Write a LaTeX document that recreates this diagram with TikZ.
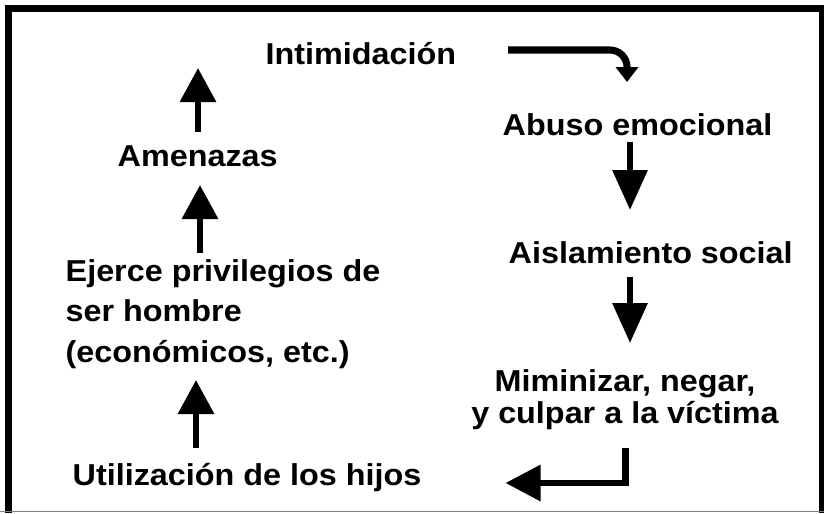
\documentclass[tikz,border=0pt]{standalone}
\usepackage{fontspec}
\setmainfont{Liberation Sans}[FakeStretch=1.07]
\usetikzlibrary{arrows.meta}
\tikzset{flecha/.style={line width=1.8pt, -{Triangle[length=3.4mm,width=3.5mm]}},
  texto/.style={font=\bfseries\fontsize{8.6}{11.4}\selectfont, inner sep=0pt, anchor=base west}}

\begin{document}
\begin{tikzpicture}
      \useasboundingbox (0,0) rectangle (8.24,5.13);
      \draw[line width=2pt] (0.085,0) -- (0.085,5.045) -- (8.225,5.045) -- (8.225,0);
      \draw[gray, line width=0.5pt] (0,0.015) -- (8.24,0.015);
      \node[texto] (intimidacion) at (2.65,4.49) {Intimidación};
      \node[texto] (abuso) at (5.02,3.78) {Abuso emocional};
      \node[texto] (aislamiento) at (5.08,2.50) {Aislamiento social};
      \node[texto, anchor=base, align=center, font=\bfseries\fontsize{8.6}{9.1}\selectfont] (minimizar) at (6.25,0.90) {Miminizar, negar, \\ y culpar a la víctima};
      \node[texto] (hijos) at (0.72,0.28) {Utilización de los hijos};
      \node[texto, align=left] (privilegios) at (0.65,1.51) {Ejerce privilegios de \\ ser hombre \\ (económicos, etc.)};
      \node[texto] (amenazas) at (1.17,3.47) {Amenazas};
      \coordinate (giro) at (5.08,4.63);
      \coordinate (abuso_sale) at (6.30,3.71);
      \coordinate (abuso_llega) at (6.30,3.03);
      \coordinate (aislamiento_sale) at (6.30,2.36);
      \coordinate (aislamiento_llega) at (6.30,1.70);
      \coordinate (vuelta) at (6.255,0.65);
      \coordinate (hijos_sale) at (1.96,0.65);
      \coordinate (hijos_llega) at (1.96,1.33);
      \coordinate (privilegios_sale) at (2.00,2.60);
      \coordinate (privilegios_llega) at (2.00,3.28);
      \coordinate (amenazas_sale) at (1.98,3.81);
      \coordinate (amenazas_llega) at (1.98,4.45);
      \draw[flecha, -{Triangle[length=1.5mm,width=2.2mm]}, line width=2pt] (giro) -- ++(1.02,0) arc[start angle=90, end angle=0, radius=0.17] -- ++(0,-0.15);
      \draw[flecha, -{Triangle[length=4mm,width=3.4mm]}] (abuso_sale) -- (abuso_llega);
      \draw[flecha, -{Triangle[length=4mm,width=3.4mm]}] (aislamiento_sale) -- (aislamiento_llega);
      \draw[flecha, -{Triangle[length=3.5mm,width=3.5mm]}] (vuelta) |- ++(-1.2,-0.35);
      \draw[flecha] (hijos_sale) -- (hijos_llega);
      \draw[flecha] (privilegios_sale) -- (privilegios_llega);
      \draw[flecha] (amenazas_sale) -- (amenazas_llega);
    \end{tikzpicture}
\end{document}
